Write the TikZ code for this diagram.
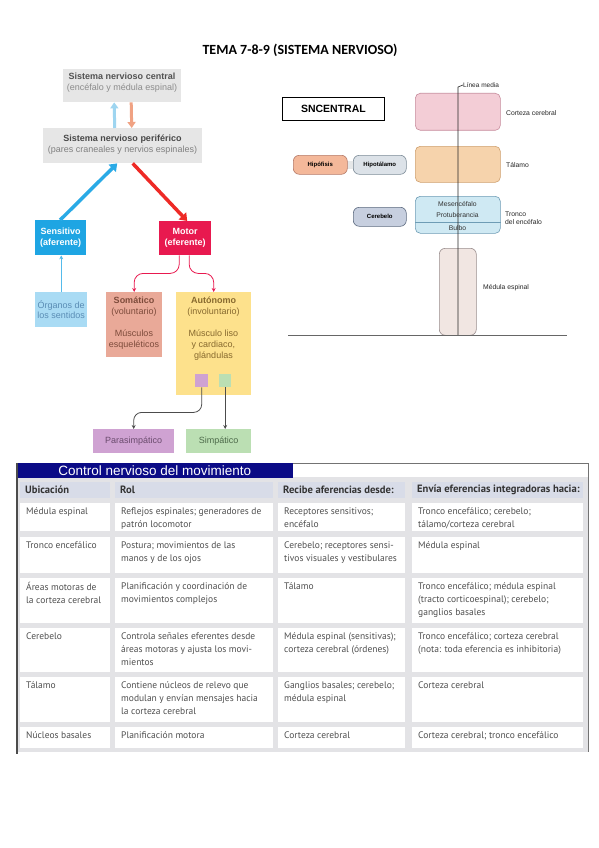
\documentclass[tikz,border=0pt]{standalone}
\usepackage{fontspec}
\setmainfont{Liberation Sans}
\newfontfamily\carlito{Carlito}
\newfontfamily\ptsans{PT Sans}
\usetikzlibrary{arrows.meta}
\definecolor{snbg}{HTML}{E6E6E6}
\definecolor{sensblue}{HTML}{1EA5E3}
\definecolor{motorred}{HTML}{E8194F}
\definecolor{arrred}{HTML}{EE2A26}
\definecolor{arrblue}{HTML}{2AAAE6}
\definecolor{smblue}{HTML}{9ED5F0}
\definecolor{smorange}{HTML}{F0A283}
\definecolor{orgfill}{HTML}{A9DBF4}
\definecolor{orgtext}{HTML}{5A8DB5}
\definecolor{somfill}{HTML}{E9A998}
\definecolor{somtext}{HTML}{7D4B3B}
\definecolor{autfill}{HTML}{FDE18C}
\definecolor{auttext}{HTML}{87692E}
\definecolor{purp}{HTML}{CFA2D2}
\definecolor{purptext}{HTML}{6A4B6D}
\definecolor{grn}{HTML}{BBDFB3}
\definecolor{grntext}{HTML}{4D6A4A}
\definecolor{corfill}{HTML}{F3CDD6}
\definecolor{cordraw}{HTML}{C78C9D}
\definecolor{talfill}{HTML}{F6D3AC}
\definecolor{taldraw}{HTML}{CFA06F}
\definecolor{trofill}{HTML}{CFE9F3}
\definecolor{trodraw}{HTML}{6E9CB5}
\definecolor{medfill}{HTML}{F1E6E2}
\definecolor{meddraw}{HTML}{9A8E8E}
\definecolor{hipfill}{HTML}{F4B89A}
\definecolor{hipdraw}{HTML}{B57A68}
\definecolor{hytfill}{HTML}{DCE2E8}
\definecolor{hytdraw}{HTML}{7D8C98}
\definecolor{cerfill}{HTML}{C7CFDF}
\definecolor{cerdraw}{HTML}{5D6B80}
\definecolor{navybar}{HTML}{0B0B86}
\definecolor{gridgray}{HTML}{E3E3E6}
\definecolor{hdrfill}{HTML}{D8DCE8}
\definecolor{celltxt}{HTML}{4F4F4F}
\tikzset{
  lbox/.style={anchor=north west, inner sep=0pt, align=center, font=\fontsize{9}{10.5}\selectfont},
  ltext/.style={inner sep=0pt, align=center, font=\fontsize{9}{11}\selectfont},
  rbox/.style={anchor=north west, inner sep=0pt, rounded corners=5pt, line width=0.6pt},
  pill/.style={anchor=north west, inner sep=0pt, rounded corners=6pt, line width=0.6pt, font=\bfseries\fontsize{6}{7}\selectfont},
  rlabel/.style={anchor=west, inner sep=0pt, align=left, font=\fontsize{6.8}{8}\selectfont, text=black!85},
  cellbox/.style={anchor=north west, inner sep=0pt, draw=none},
  celltext/.style={anchor=north west, inner sep=0pt, align=left, text=celltxt, font=\ptsans\fontsize{9.5}{12.8}\selectfont},
  hdrtext/.style={anchor=west, inner sep=0pt, text=black!80, font=\ptsans\bfseries\fontsize{10.6}{11}\selectfont},
}
\newcommand\tcell[7]{%
  \node[cellbox, fill=white, minimum width=#4pt, minimum height=#5pt] (#1) at (#2,#3) {};
  \node[celltext] (#1t) at ([xshift=6pt,yshift=-4.5pt]#1.north west) {#6};}
\newcommand\hcell[6]{%
  \node[cellbox, fill=hdrfill, minimum width=#4pt, minimum height=#5pt] (#1) at (#2,#3) {};
  \node[hdrtext] (#1t) at ([xshift=5pt]#1.west) {#6};}
\begin{document}
\begin{tikzpicture}[x=1pt,y=-1pt]
\path[use as bounding box, fill=white] (0,0) rectangle (599,848);

% title
\node[font=\carlito\bfseries\fontsize{14}{16}\selectfont, inner sep=0pt] (title) at (300,50.5) {TEMA 7-8-9 (SISTEMA NERVIOSO)};

% ---------- left diagram ----------
\node[lbox, fill=snbg, minimum width=118pt, minimum height=33pt] (snc) at (63,69) {};
\node[ltext] (snct) at (122,83) {\textcolor{black!68}{\bfseries Sistema nervioso central}\\\textcolor{black!45}{(encéfalo y médula espinal)}};
\node[lbox, fill=snbg, minimum width=159pt, minimum height=35pt] (snp) at (43,128) {};
\node[ltext] (snpt) at (122.5,145) {\textcolor{black!72}{\bfseries Sistema nervioso periférico}\\\textcolor{black!50}{(pares craneales y nervios espinales)}};

\draw[smblue, line width=3pt, -{Triangle[width=8pt,length=6pt]}] ([xshift=-8pt]snp.north) -- ([xshift=-8pt]snc.south);
\draw[smorange, line width=3pt, -{Triangle[width=8pt,length=6pt]}] ([xshift=9pt]snc.south) -- ([xshift=9pt]snp.north);

\node[lbox, fill=sensblue, minimum width=51pt, minimum height=35pt, text=white, font=\bfseries\fontsize{9}{11}\selectfont] (sens) at (35,220) {Sensitivo\\(aferente)};
\node[lbox, fill=motorred, minimum width=52pt, minimum height=34pt, text=white, font=\bfseries\fontsize{9}{11}\selectfont] (motor) at (159,221) {Motor\\(eferente)};

\draw[arrblue, line width=3.5pt, -{Triangle[width=10pt,length=7pt]}] ([xshift=-0.5pt]sens.north) -- ([xshift=-5.5pt]snp.south);
\draw[arrred, line width=3.5pt, -{Triangle[width=10pt,length=7pt]}] ([xshift=10pt]snp.south) -- ([xshift=2pt]motor.north);

\node[lbox, fill=orgfill, minimum width=52pt, minimum height=35pt, text=orgtext, font=\fontsize{9}{10.5}\selectfont] (org) at (35,292) {Órganos de\\los sentidos};
\draw[arrblue!80, line width=0.8pt, -{Stealth[width=4pt,length=4pt]}] (org.north) -- (org.north |- sens.south);

\node[lbox, fill=somfill, minimum width=56pt, minimum height=65pt] (som) at (106,292) {};
\node[ltext, anchor=north, text=somtext] (somt) at (134,297) {\textbf{Somático}\\(voluntario)\\[11pt]Músculos\\esqueléticos};
\node[lbox, fill=autfill, minimum width=75pt, minimum height=103pt] (aut) at (176,292) {};
\node[ltext, anchor=north, text=auttext] (autt) at (213.5,297) {\textbf{Autónomo}\\(involuntario)\\[11pt]Músculo liso\\y cardiaco,\\glándulas};

\draw[motorred, line width=0.8pt, rounded corners=9pt, -{Stealth[width=4pt,length=4pt]}] ([xshift=-6pt]motor.south) -- ++(0,18) -| (som.north);
\draw[motorred, line width=0.8pt, rounded corners=9pt, -{Stealth[width=4pt,length=4pt]}] ([xshift=4pt]motor.south) -- ++(0,18) -| (aut.north);

\node[lbox, fill=purp, minimum width=13pt, minimum height=13pt] (sqp) at (195,374) {};
\node[lbox, fill=grn, minimum width=12pt, minimum height=13pt] (sqg) at (219,374) {};

\node[lbox, fill=purp, minimum width=81pt, minimum height=24pt, text=purptext] (para) at (93,429) {Parasimpático};
\node[lbox, fill=grn, minimum width=65pt, minimum height=24pt, text=grntext] (simp) at (186,429) {Simpático};

\draw[black!70, line width=0.8pt, rounded corners=8pt, -{Stealth[width=4pt,length=4pt]}] (sqp.south) -- ++(0,25) -| (para.north);
\draw[black!70, line width=0.8pt, -{Stealth[width=4pt,length=4pt]}] (sqg.south) -- (sqg.south |- simp.north);

% ---------- right diagram ----------
\node[anchor=north west, draw=black, line width=0.8pt, fill=white, minimum width=102pt, minimum height=23pt, inner sep=0pt, font=\bfseries\fontsize{10.5}{12}\selectfont] (sncentral) at (282,97) {SNCENTRAL};

\node[rbox, fill=corfill, draw=cordraw, minimum width=85pt, minimum height=37pt] (cor) at (415,93) {};
\node[rbox, fill=talfill, draw=taldraw, minimum width=85pt, minimum height=36pt] (tal) at (415,146) {};
\node[rbox, fill=trofill, draw=trodraw, minimum width=85pt, minimum height=37pt] (tro) at (415,196) {};
\draw[trodraw, line width=0.6pt] (tro.west |- 0,222) -- (tro.east |- 0,222);
\node[rbox, fill=medfill, draw=meddraw, minimum width=37pt, minimum height=87pt, rounded corners=6pt] (med) at (439,248) {};

\node[pill, fill=hytfill!70!gray!40, draw=none, minimum width=10pt, minimum height=8pt, rounded corners=0pt] (tallo) at (345,160.5) {};
\node[pill, fill=hipfill, draw=hipdraw, minimum width=54pt, minimum height=19pt] (hip) at (293,155) {Hipófisis};
\node[pill, fill=hytfill, draw=hytdraw, minimum width=53pt, minimum height=19pt] (hyt) at (353,155) {Hipotálamo};
\node[pill, fill=cerfill, draw=cerdraw, minimum width=53pt, minimum height=19pt] (cer) at (353,207) {Cerebelo};

\coordinate (lmtop) at (458,87);
\coordinate (lmbot) at (458,335);
\node[rlabel, font=\fontsize{6.5}{8}\selectfont] (lm) at (463,85) {Línea media};
\draw[black!85, line width=0.6pt] (lmbot) -- (lmtop) -- (lm.west);

\node[inner sep=0pt, font=\fontsize{6.8}{8}\selectfont, text=black!80] (mes) at (457.5,204) {Mesencéfalo};
\node[inner sep=0pt, font=\fontsize{6.8}{8}\selectfont, text=black!80] (pro) at (457.5,215.5) {Protuberancia};
\node[inner sep=0pt, font=\fontsize{6.8}{8}\selectfont, text=black!80] (bul) at (457.5,228) {Bulbo};

\node[rlabel] (corl) at (506,113) {Corteza cerebral};
\node[rlabel] (tall) at (506,165) {Tálamo};
\node[rlabel] (trol) at (505,218.5) {Tronco\\del encéfalo};
\node[rlabel] (medl) at (483,288) {Médula espinal};

\coordinate (hl1) at (288,335);
\coordinate (hl2) at (567,335);
\draw[black!60, line width=0.8pt] (hl1) -- (hl2);

% ---------- table ----------
\fill[gridgray] (18,477) rectangle (588,752);
\node[anchor=north west, fill=navybar, minimum width=277pt, minimum height=14.5pt, inner sep=0pt, text=white, font=\fontsize{13.5}{14}\selectfont] (tbar) at (16,463) {Control nervioso del movimiento};
\coordinate (tr1) at (588,463);
\coordinate (tr2) at (588,752);
\coordinate (tl1) at (17,463);
\coordinate (tl2) at (17,754);
\draw[black!55, line width=0.8pt] (tbar.north east) -- (tr1) -- (tr2);
\draw[black!70, line width=1.2pt] (tl1) -- (tl2);

\hcell{h1}{20}{482}{90}{16}{Ubicación}
\hcell{h2}{115}{482}{158}{16}{Rol}
\hcell{h3}{278}{482}{127}{16}{Recibe aferencias desde:}
\hcell{h4}{412}{482}{171}{16}{Envía eferencias integradoras hacia:}

\tcell{a1}{20}{503}{90}{28}{Médula espinal}{}
\tcell{b1}{115}{503}{158}{28}{Reflejos espinales; generadores de\\patrón locomotor}{}
\tcell{c1}{278}{503}{127}{28}{Receptores sensitivos;\\encéfalo}{}
\tcell{d1}{412}{503}{171}{28}{Tronco encefálico; cerebelo;\\tálamo/corteza cerebral}{}

\tcell{a2}{20}{537}{90}{36}{Tronco encefálico}{}
\tcell{b2}{115}{537}{158}{36}{Postura; movimientos de las\\manos y de los ojos}{}
\tcell{c2}{278}{537}{127}{36}{Cerebelo; receptores sensi-\\tivos visuales y vestibulares}{}
\tcell{d2}{412}{537}{171}{36}{Médula espinal}{}

\tcell{a3}{20}{578}{90}{45}{Áreas motoras de\\la corteza cerebral}{}
\tcell{b3}{115}{578}{158}{45}{Planificación y coordinación de\\movimientos complejos}{}
\tcell{c3}{278}{578}{127}{45}{Tálamo}{}
\tcell{d3}{412}{578}{171}{45}{Tronco encefálico; médula espinal\\(tracto corticoespinal); cerebelo;\\ganglios basales}{}

\tcell{a4}{20}{628}{90}{44}{Cerebelo}{}
\tcell{b4}{115}{628}{158}{44}{Controla señales eferentes desde\\áreas motoras y ajusta los movi-\\mientos}{}
\tcell{c4}{278}{628}{127}{44}{Médula espinal (sensitivas);\\corteza cerebral (órdenes)}{}
\tcell{d4}{412}{628}{171}{44}{Tronco encefálico; corteza cerebral\\(nota: toda eferencia es inhibitoria)}{}

\tcell{a5}{20}{677}{90}{45}{Tálamo}{}
\tcell{b5}{115}{677}{158}{45}{Contiene núcleos de relevo que\\modulan y envían mensajes hacia\\la corteza cerebral}{}
\tcell{c5}{278}{677}{127}{45}{Ganglios basales; cerebelo;\\médula espinal}{}
\tcell{d5}{412}{677}{171}{45}{Corteza cerebral}{}

\tcell{a6}{20}{727}{90}{21}{Núcleos basales}{}
\tcell{b6}{115}{727}{158}{21}{Planificación motora}{}
\tcell{c6}{278}{727}{127}{21}{Corteza cerebral}{}
\tcell{d6}{412}{727}{171}{21}{Corteza cerebral; tronco encefálico}{}
\end{tikzpicture}
\end{document}
